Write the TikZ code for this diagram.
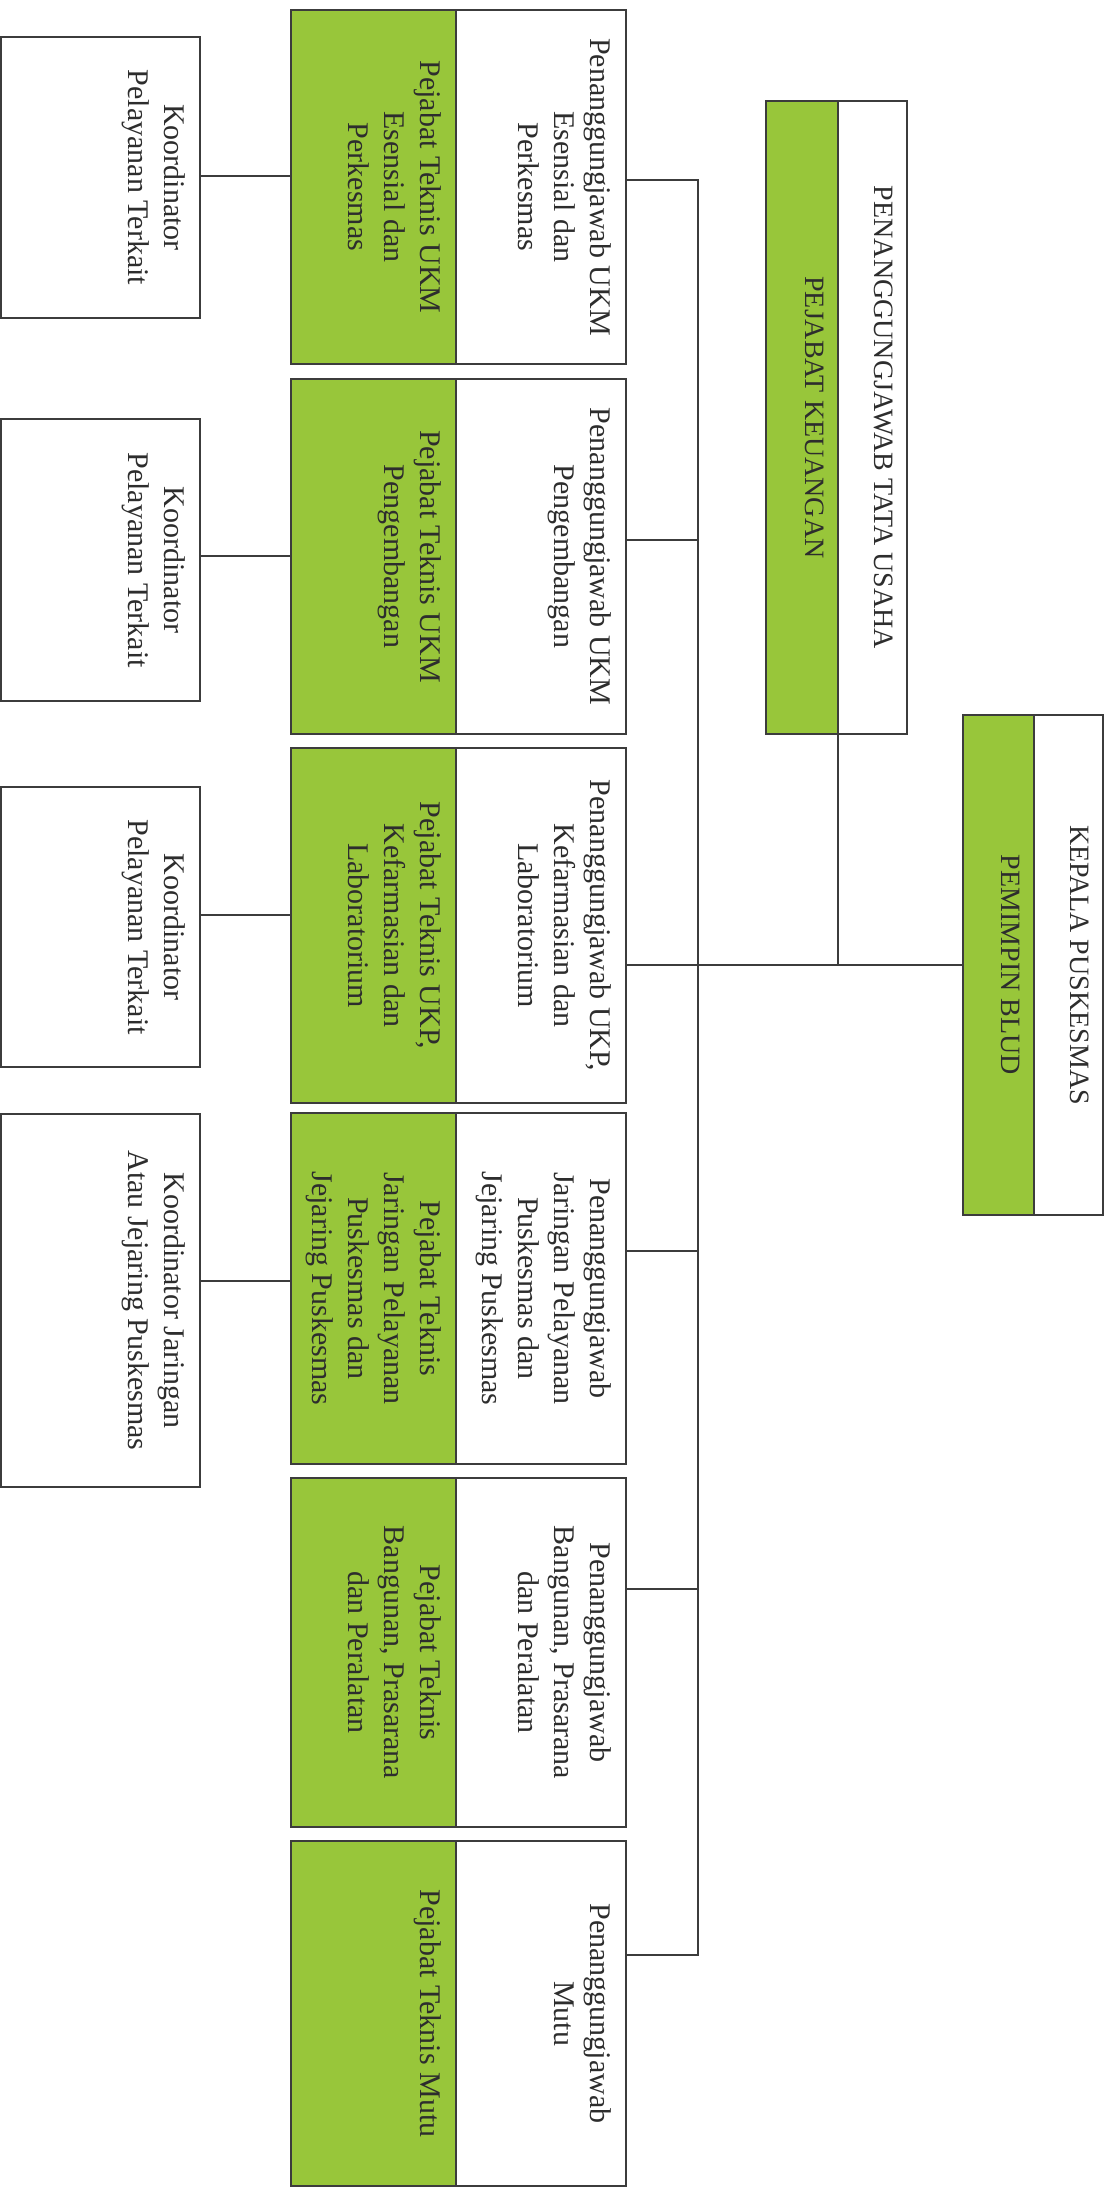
\documentclass[tikz,border=0pt]{standalone}
\usepackage{xcolor}
\usepackage{fontspec}
\setmainfont{Liberation Serif}
\usepackage{tikz}
\usetikzlibrary{positioning}

\definecolor{hijau}{RGB}{152,198,58}
\definecolor{garis}{RGB}{60,60,60}
\definecolor{tinta}{RGB}{45,45,45}

\tikzset{
	kotak/.style={draw=garis, line width=2pt, rectangle, inner sep=0pt, outer sep=0pt},
	hijaubox/.style={kotak, fill=hijau, minimum width=165pt},
	putihbox/.style={kotak, fill=white, minimum width=170pt},
	koorbox/.style={kotak, fill=white, minimum width=199pt},
	teks/.style={rotate=-90, anchor=north, align=center, inner sep=0pt, text=tinta, font=\fontsize{30}{36}\selectfont},
	teksbesar/.style={teks, font=\fontsize{28}{34}\selectfont},
	garisan/.style={draw=garis, line width=2pt}
}

\begin{document}
\begin{tikzpicture}[x=1pt, y=-1pt]
		\useasboundingbox (0,0) rectangle (1112,2190);

		% pimpinan
		\node[kotak, fill=hijau, minimum width=71pt, minimum height=500pt] (pb) at (998.5,965) {};
		\node[kotak, fill=white, minimum width=69pt, minimum height=500pt, right=0pt of pb] (kp) {};
		\node[teksbesar] (pbt) at ([xshift=-14pt]pb.east) {PEMIMPIN BLUD};
		\node[teksbesar] (kpt) at ([xshift=-14pt]kp.east) {KEPALA PUSKESMAS};

		\node[kotak, fill=hijau, minimum width=72pt, minimum height=633pt] (keu) at (802,417.5) {};
		\node[kotak, fill=white, minimum width=69pt, minimum height=633pt, right=0pt of keu] (tu) {};
		\node[teksbesar] (keut) at ([xshift=-14pt]keu.east) {PEJABAT KEUANGAN};
		\node[teksbesar] (tut) at ([xshift=-14pt]tu.east) {PENANGGUNGJAWAB TATA USAHA};

		% penanggungjawab dan pejabat teknis
		\node[hijaubox, minimum height=354pt] (g1) at (373.5,187) {};
		\node[putihbox, minimum height=354pt, right=0pt of g1] (w1) {};
		\node[teks] (g1t) at ([xshift=-14pt]g1.east) {Pejabat Teknis UKM\\Esensial dan\\Perkesmas};
		\node[teks] (w1t) at ([xshift=-14pt]w1.east) {Penanggungjawab UKM\\Esensial dan\\Perkesmas};

		\node[hijaubox, minimum height=355pt] (g2) at (373.5,556.5) {};
		\node[putihbox, minimum height=355pt, right=0pt of g2] (w2) {};
		\node[teks] (g2t) at ([xshift=-14pt]g2.east) {Pejabat Teknis UKM\\Pengembangan};
		\node[teks] (w2t) at ([xshift=-14pt]w2.east) {Penanggungjawab UKM\\Pengembangan};

		\node[hijaubox, minimum height=355pt] (g3) at (373.5,925.5) {};
		\node[putihbox, minimum height=355pt, right=0pt of g3] (w3) {};
		\node[teks] (g3t) at ([xshift=-14pt]g3.east) {Pejabat Teknis UKP,\\Kefarmasian dan\\Laboratorium};
		\node[teks] (w3t) at ([xshift=-14pt]w3.east) {Penanggungjawab UKP,\\Kefarmasian dan\\Laboratorium};

		\node[hijaubox, minimum height=351pt] (g4) at (373.5,1288.5) {};
		\node[putihbox, minimum height=351pt, right=0pt of g4] (w4) {};
		\node[teks] (g4t) at ([xshift=-14pt]g4.east) {Pejabat Teknis\\Jaringan Pelayanan\\Puskesmas dan\\Jejaring Puskesmas};
		\node[teks] (w4t) at ([xshift=-14pt]w4.east) {Penanggungjawab\\Jaringan Pelayanan\\Puskesmas dan\\Jejaring Puskesmas};

		\node[hijaubox, minimum height=349pt] (g5) at (373.5,1652.5) {};
		\node[putihbox, minimum height=349pt, right=0pt of g5] (w5) {};
		\node[teks] (g5t) at ([xshift=-14pt]g5.east) {Pejabat Teknis\\Bangunan, Prasarana\\dan Peralatan};
		\node[teks] (w5t) at ([xshift=-14pt]w5.east) {Penanggungjawab\\Bangunan, Prasarana\\dan Peralatan};

		\node[hijaubox, minimum height=345pt] (g6) at (373.5,2013.5) {};
		\node[putihbox, minimum height=345pt, right=0pt of g6] (w6) {};
		\node[teks] (g6t) at ([xshift=-14pt]g6.east) {Pejabat Teknis Mutu};
		\node[teks] (w6t) at ([xshift=-14pt]w6.east) {Penanggungjawab\\Mutu};

		% koordinator
		\node[koorbox, minimum height=281pt] (k1) at (100.5,177.5) {};
		\node[koorbox, minimum height=282pt] (k2) at (100.5,560) {};
		\node[koorbox, minimum height=280pt] (k3) at (100.5,927) {};
		\node[koorbox, minimum height=373pt] (k4) at (100.5,1300.5) {};
		\node[teks] (k1t) at ([xshift=-14pt]k1.east) {Koordinator\\Pelayanan Terkait};
		\node[teks] (k2t) at ([xshift=-14pt]k2.east) {Koordinator\\Pelayanan Terkait};
		\node[teks] (k3t) at ([xshift=-14pt]k3.east) {Koordinator\\Pelayanan Terkait};
		\node[teks] (k4t) at ([xshift=-14pt]k4.east) {Koordinator Jaringan\\Atau Jejaring Puskesmas};

		\coordinate (j1) at (698,180);
		\coordinate (j2) at (698,540);
		\coordinate (j4) at (698,1251);
		\coordinate (j5) at (698,1589);
		\coordinate (j6) at (698,1955);
		\coordinate (c1) at (0,176);
		\coordinate (c2) at (0,556);
		\coordinate (c3) at (0,915);
		\coordinate (c4) at (0,1281);

		% garis komando
		\draw[garisan] (kp.west -| pb.west) -- (w3.east |- pb.west);
		\draw[garisan] (tu.south west) -- (tu.south west |- pb.west);
		\draw[garisan] (w1.east |- j1) -- (j1) -- (j6) -- (w6.east |- j6);
		\draw[garisan] (j2) -- (w2.east |- j2);
		\draw[garisan] (j4) -- (w4.east |- j4);
		\draw[garisan] (j5) -- (w5.east |- j5);

		\draw[garisan] (k1.east |- c1) -- (g1.west |- c1);
		\draw[garisan] (k2.east |- c2) -- (g2.west |- c2);
		\draw[garisan] (k3.east |- c3) -- (g3.west |- c3);
		\draw[garisan] (k4.east |- c4) -- (g4.west |- c4);
	\end{tikzpicture}
\end{document}
